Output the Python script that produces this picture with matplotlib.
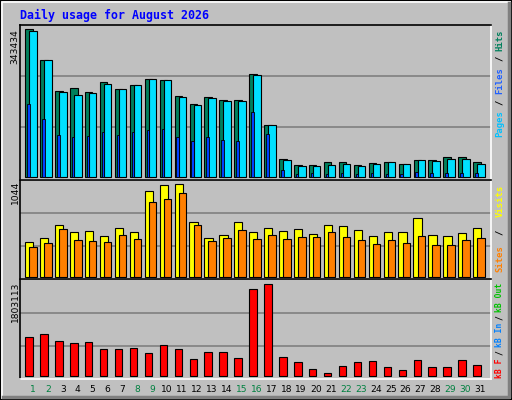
import matplotlib
matplotlib.use("Agg")
import matplotlib.pyplot as plt
from matplotlib.patches import Rectangle
import numpy as np

days = list(range(1, 32))
weekend = [1, 2, 8, 9, 15, 16, 22, 23, 29, 30]
hits = [343434, 271500, 199600, 206500, 197200, 220400, 204200, 213500, 227400, 225100,
        188000, 169400, 185600, 178700, 178700, 239000, 120700, 41800, 27800, 27800,
        34800, 34800, 27800, 32500, 34800, 30200, 39400, 39400, 46400, 46400, 34800]
files = [338800, 271500, 197200, 190300, 194900, 215800, 204200, 213500, 227400, 225100,
         185600, 167100, 183300, 176400, 176400, 236700, 120700, 39400, 25500, 25500,
         27800, 30200, 25500, 30200, 34800, 30200, 39400, 37100, 41800, 41800, 30200]
pages = [169400, 134600, 97500, 92800, 95100, 104400, 97500, 104400, 109100, 111400,
         92800, 83500, 92800, 85900, 83500, 150800, 99800, 16200, 7000, 9300,
         7000, 9300, 7000, 9300, 7000, 7000, 11600, 9300, 9300, 9300, 9300]
visits = [388, 433, 580, 501, 512, 456, 546, 501, 964, 1032, 1044, 614, 433, 467, 614, 501,
          546, 512, 535, 478, 580, 569, 524, 456, 501, 501, 659, 467, 456, 490, 546]
sites = [331, 377, 535, 411, 399, 388, 467, 422, 840, 874, 942, 580, 399, 433, 524, 422,
         467, 422, 445, 445, 501, 445, 411, 365, 411, 377, 456, 354, 354, 411, 433]
kbytes = [763000, 823000, 684000, 645000, 665000, 526000, 526000, 546000, 448000, 605000,
          526000, 329000, 467000, 467000, 349000, 1711000, 1803113, 369000, 270000, 132000,
          53000, 191000, 270000, 290000, 171000, 112000, 309000, 171000, 171000, 309000, 211000]

W, H = 512, 400
fig = plt.figure(figsize=(5.12, 4.0), dpi=100, facecolor="#C0C0C0")

def px_ax(x0, y0, x1, y1):
    return fig.add_axes([x0 / W, 1 - y1 / H, (x1 - x0) / W, (y1 - y0) / H])

x = np.array(days, dtype=float)
EC = "black"

def style(ax, lo, hi, grids):
    ax.set_facecolor("#C0C0C0")
    ax.set_xlim(0.128, 31.67)
    ax.set_ylim(lo, hi)
    for g in grids:
        ax.axhline(g, color="#808080", lw=1.2, zorder=0)
    ax.set_xticks([]); ax.set_yticks([])
    for s in ["left", "top"]:
        ax.spines[s].set_color("black"); ax.spines[s].set_linewidth(1.2)
    for s in ["right", "bottom"]:
        ax.spines[s].set_color("white"); ax.spines[s].set_linewidth(1.2)

# top panel
k1 = 343434 / 148
ax1 = px_ax(20, 25, 491, 180)
style(ax1, -3 * k1, 152 * k1, [50 * k1, 101 * k1])
ax1.bar(x - 0.27, hits, width=0.5, color="#00805c", edgecolor=EC, lw=0.8, zorder=2)
ax1.bar(x + 0.0, files, width=0.5, color="#00e0ff", edgecolor=EC, lw=0.8, zorder=3)
ax1.bar(x - 0.31, pages, width=0.17, color="#0040ff", edgecolor=EC, lw=0.6, zorder=4)

# middle panel
k2 = 1044 / 92.4
ax2 = px_ax(20, 180, 491, 279)
style(ax2, -2.3 * k2, 96.7 * k2, [30.7 * k2, 63.7 * k2])
ax2.bar(x - 0.25, visits, width=0.55, color="#ffff00", edgecolor=EC, lw=0.8, zorder=2)
ax2.bar(x + 0.0, sites, width=0.5, color="#ff8000", edgecolor=EC, lw=0.8, zorder=3)

# bottom panel
k3 = 1803113 / 91.3
ax3 = px_ax(20, 279, 491, 379)
style(ax3, -3.3 * k3, 96.7 * k3, [29.7 * k3, 62.4 * k3])
ax3.bar(x - 0.27, kbytes, width=0.5, color="#ff0000", edgecolor=EC, lw=0.8, zorder=2)

def ftext(px, py, s, **kw):
    fig.text(px / W, 1 - py / H, s, **kw)

# title
ftext(20, 15, "Daily usage for August 2026", color="#0000ff", fontsize=8.4,
      family="DejaVu Sans Mono", fontweight="bold", va="center", ha="left")

# left labels
for py, s in [(29, "343434"), (181, "1044"), (282, "1803113")]:
    ftext(15, py, s, rotation=90, fontsize=6.6, va="top", ha="center", color="black")

# right labels (bottom -> top), words placed one by one
def right_label(y_bottom, y_top, parts, fs):
    total = sum(len(s) for s, c in parts)
    cw = (y_bottom - y_top) / total
    y = y_bottom
    for s, c in parts:
        ftext(500, y - len(s) * cw / 2, s.strip(), rotation=90, fontsize=fs,
              family="DejaVu Sans Mono", color=c, va="center", ha="center",
              fontweight="bold")
        y -= len(s) * cw

right_label(137, 29, [("Pages", "#00c0ff"), (" / ", "black"), ("Files", "#2060ff"),
                      (" / ", "black"), ("Hits", "#00805c")], 6.4)
right_label(276, 181, [("Sites", "#ff8000"), (" / ", "black"), ("Visits", "#ffff00")], 6.4)
right_label(377, 284, [("kB F", "#ff0000"), (" / ", "black"), ("kB In", "#0080ff"),
                       (" / ", "black"), ("kB Out", "#00c000")], 5.8)

# day labels
for d in days:
    px = 33 + (d - 1) * 14.9
    ftext(px, 389, str(d), fontsize=6.6, ha="center", va="center",
          color="#008040" if d in weekend else "black")

# border
fig.patches.append(Rectangle((0, 0), 1, 1, transform=fig.transFigure, fill=False,
                             edgecolor="black", lw=1.5))
fig.lines.append(plt.Line2D([2 / W, 2 / W, 1 - 2 / W], [2 / H, 1 - 2 / H, 1 - 2 / H],
                            transform=fig.transFigure, color="white", lw=1.2))
fig.lines.append(plt.Line2D([3 / W, 1 - 3 / W, 1 - 3 / W], [3 / H, 3 / H, 1 - 3 / H],
                            transform=fig.transFigure, color="#808080", lw=2.5))

fig.savefig("out.png", dpi=100, facecolor=fig.get_facecolor())
